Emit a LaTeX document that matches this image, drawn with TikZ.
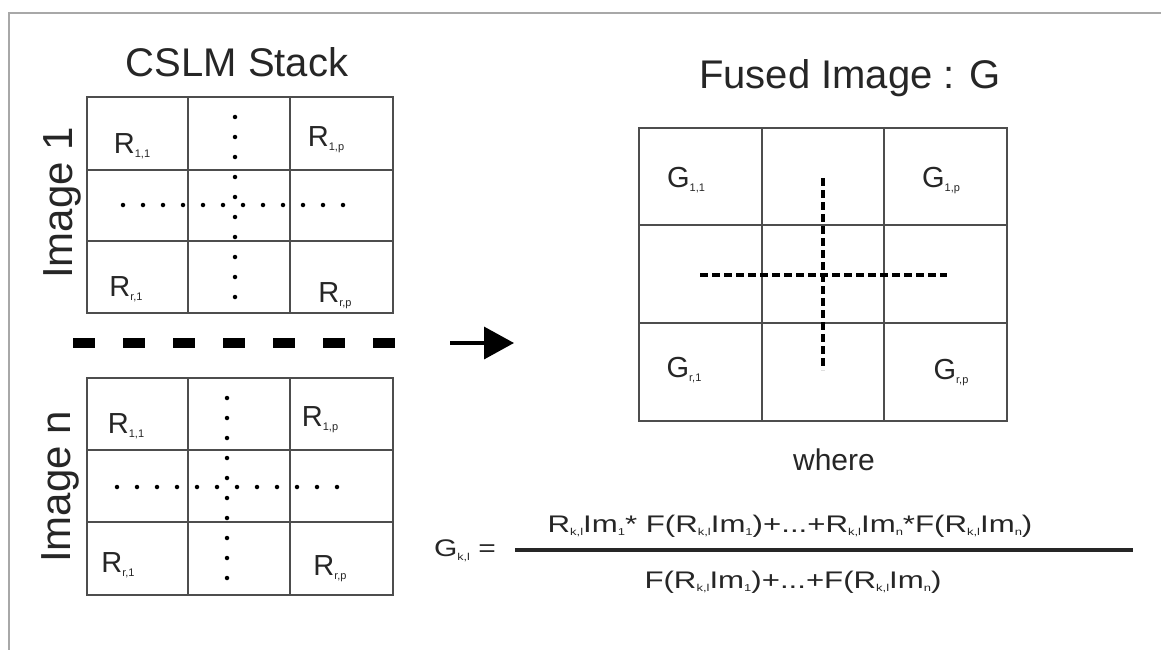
\documentclass[tikz,border=0pt]{standalone}
\usepackage{fontspec}
\setmainfont{Liberation Sans}
\usetikzlibrary{arrows.meta}
\definecolor{txt}{HTML}{262626}
\definecolor{gridc}{HTML}{4D4D4D}
\definecolor{framec}{HTML}{A8A8A8}
\newcommand\sbs[1]{\raisebox{-4pt}{\fontsize{11}{11}\selectfont #1}}
\newcommand\fsb[1]{\raisebox{-3.5pt}{\fontsize{10}{10}\selectfont #1}}
\newcommand\fs[1]{\fontsize{#1}{#1}\selectfont}
\tikzset{
  gridline/.style={draw=gridc,line width=1.6pt},
  dotline/.style={line width=4.5pt,line cap=round,dash pattern=on 0pt off 20pt,draw=black},
  dashline/.style={line width=4pt,dash pattern=on 8pt off 4pt,draw=black},
  title/.style={text=txt,font=\fs{40},inner sep=0pt},
  lab/.style={text=txt,font=\fs{29},inner sep=0pt},
  gl/.style={text=txt,font=\fs{29},inner sep=0pt},
  form/.style={text=txt,font=\fs{24},inner sep=0pt},
}
\begin{document}
\begin{tikzpicture}[x=1pt,y=-1pt]
\useasboundingbox (0,0) rectangle (1161,650);
\fill[white] (0,0) rectangle (1161,650);
% frame
\draw[framec,line width=2pt] (9,650) -- (9,13) -- (1161,13);
% titles
\node[title] (cslm) at (237,62) {CSLM Stack};
\node[title] (fused) at (850,78) {Fused Image : G};
\node[title,font=\fs{42},rotate=90] (im1) at (62,203) {Image 1};
\node[title,font=\fs{42},rotate=90] (imn) at (60,487) {Image n};
% grid 1
\draw[gridline] (87,97) rectangle (393,313);
\draw[gridline] (188,97) -- (188,313) (290,97) -- (290,313)
  (87,170) -- (393,170) (87,241) -- (393,241);
\draw[dotline] (235,117) -- (235,300);
\draw[dotline] (123,205) -- (348,205);
\node[lab] (a11) at (132,146) {R\sbs{1,1}};
\node[lab] (a1p) at (326,140) {R\sbs{1,p}};
\node[lab] (ar1) at (126,289) {R\sbs{r,1}};
\node[lab] (arp) at (335,296) {R\sbs{r,p}};
% separator
\draw[line width=10pt,dash pattern=on 22pt off 28pt] (73,343) -- (397,343);
% grid n
\draw[gridline] (87,378) rectangle (393,595);
\draw[gridline] (188,378) -- (188,595) (290,378) -- (290,595)
  (87,450) -- (393,450) (87,522) -- (393,522);
\draw[dotline] (227,398) -- (227,581);
\draw[dotline] (117,487) -- (342,487);
\node[lab] (b11) at (126,426) {R\sbs{1,1}};
\node[lab] (b1p) at (320,420) {R\sbs{1,p}};
\node[lab] (br1) at (118,565) {R\sbs{r,1}};
\node[lab] (brp) at (330,569) {R\sbs{r,p}};
% arrow
\coordinate (as) at (450,343);
\coordinate (ae) at (514,343);
\draw[line width=3.5pt,-{Triangle[length=30pt,width=32pt]}] (as) -- (ae);
% fused grid
\draw[gridline] (639,128) rectangle (1007,421);
\draw[gridline] (762,128) -- (762,421) (884,128) -- (884,421)
  (639,225) -- (1007,225) (639,323) -- (1007,323);
\draw[dashline] (823,178) -- (823,370);
\draw[dashline] (700,275) -- (947,275);
\node[gl] (g11) at (686,180) {G\sbs{1,1}};
\node[gl] (g1p) at (941,181) {G\sbs{1,p}};
\node[gl] (gr1) at (684,370) {G\sbs{r,1}};
\node[gl] (grp) at (951,373) {G\sbs{r,p}};
\node[text=txt,font=\fs{30},inner sep=0pt] (where) at (834,460) {where};
% formula
\node[form] (gkl) at (465,551) {\scalebox{1.25}[1]{G\fsb{k,l} =}};
\coordinate (fl) at (515,550);
\coordinate (fr) at (1133,550);
\draw[line width=3.5pt,txt] (fl) -- (fr);
\node[form,anchor=base] (num) at (790,532) {\scalebox{1.3}[1]{R\fsb{k,l}Im\fsb{1}* F(R\fsb{k,l}Im\fsb{1})+...+R\fsb{k,l}Im\fsb{n}*F(R\fsb{k,l}Im\fsb{n})}};
\node[form,anchor=base] (den) at (793,588) {\scalebox{1.3}[1]{F(R\fsb{k,l}Im\fsb{1})+...+F(R\fsb{k,l}Im\fsb{n})}};
\end{tikzpicture}
\end{document}
